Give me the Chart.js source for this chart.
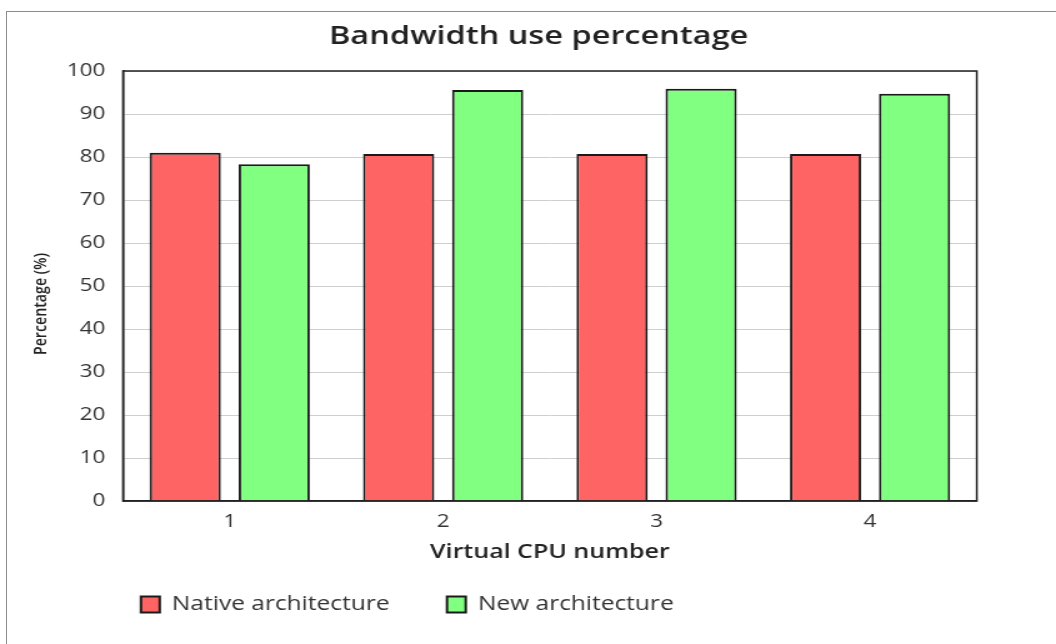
<!DOCTYPE html>
<html>
<head>
<meta charset="utf-8">
<script src="https://cdn.jsdelivr.net/npm/chart.js@4/dist/chart.umd.min.js"></script>
<style>
  html, body { margin: 0; padding: 0; background: #fff; }
  #wrap { position: relative; width: 1056px; height: 644px; overflow: hidden; }
  #frame { position: absolute; left: 6px; top: 11px; width: 1100px; height: 700px;
           border-top: 1px solid #8c8c8c; border-left: 1px solid #8c8c8c; pointer-events: none; }
  #myChart { position: absolute; left: 0; top: 0; }
</style>
</head>
<body>
<div id="wrap">
  <!-- drawn narrow then stretched sideways, like the original picture -->
  <canvas id="myChart" width="845" height="644" style="width:1056px;height:644px"></canvas>
  <div id="frame"></div>
</div>
<script>
// data
const cpus = ['1', '2', '3', '4'];
const nativeArch = [81, 80.7, 80.7, 80.7];
const newArch = [78.3, 95.6, 95.9, 94.7];
const seriesNames = ['Native architecture', 'New architecture'];
const yTicks = [0, 10, 20, 30, 40, 50, 60, 70, 80, 90, 100];
const yTitle = 'Percentage (%)';

const font = 'Open Sans';
const textColor = '#333333';
const legendPad = 46;
const legendSize = 19.6;

// top and right edge of the plot box
const plotFrame = {
  id: 'plotFrame',
  afterDraw(chart) {
    const a = chart.chartArea;
    const ctx = chart.ctx;
    ctx.save();
    ctx.strokeStyle = '#222222';
    ctx.lineWidth = 1.5;
    ctx.strokeRect(a.left, a.top, a.right - a.left, a.bottom - a.top);
    ctx.restore();
  }
};

// y axis title sits a bit below the middle in the original
const yTitlePlace = {
  id: 'yTitlePlace',
  afterDraw(chart) {
    const ctx = chart.ctx;
    ctx.save();
    ctx.translate(33, 304);
    ctx.rotate(-Math.PI / 2);
    ctx.fillStyle = '#222222';
    ctx.font = '600 14.2px "' + font + '"';
    ctx.textAlign = 'center';
    ctx.textBaseline = 'middle';
    ctx.fillText(yTitle, 0, 0);
    ctx.restore();
  }
};

// legend and title are not centred on the canvas in the original
const boxPlace = {
  id: 'boxPlace',
  afterLayout(chart) {
    chart.legend.left = 112.8 - legendPad;
    chart.legend.top = 604.5 - legendSize / 2 - legendPad;
    chart.titleBlock.left = 0;
    chart.titleBlock.right = 862;
  }
};

const myChart = document.getElementById('myChart');

new Chart(myChart, {
  type: 'bar',
  data: {
    labels: cpus,
    datasets: [{
      label: seriesNames[0],
      data: nativeArch,
      backgroundColor: '#ff6464',
      borderColor: '#1a1a1a',
      borderWidth: 2,
      categoryPercentage: 0.834,
      barPercentage: 0.8
    }, {
      label: seriesNames[1],
      data: newArch,
      backgroundColor: '#80ff80',
      borderColor: '#1a1a1a',
      borderWidth: 2,
      categoryPercentage: 0.834,
      barPercentage: 0.8
    }]
  },
  options: {
    responsive: false,
    animation: false,
    devicePixelRatio: 1,
    layout: { padding: { left: 0, right: 63.4, top: 0, bottom: 0 } },
    plugins: {
      title: {
        display: true,
        text: 'Bandwidth use percentage',
        color: '#222222',
        font: { family: font, size: 26, weight: '600' },
        padding: { top: 21.4, bottom: 18.4 }
      },
      legend: {
        position: 'bottom',
        align: 'start',
        labels: {
          color: textColor,
          font: { family: font, size: legendSize },
          boxWidth: 15,
          boxHeight: 16,
          padding: legendPad,
          useBorderRadius: false
        }
      },
      tooltip: { enabled: false }
    },
    scales: {
      x: {
        grid: { display: false, drawTicks: false },
        border: { color: '#222222', width: 1.5 },
        ticks: { color: textColor, font: { family: font, size: 18 }, padding: 10 },
        title: {
          display: true,
          text: 'Virtual CPU number',
          color: '#222222',
          font: { family: font, size: 20, weight: '600' },
          padding: { top: 4, bottom: 4.4 }
        },
        afterFit(scale) { scale.height = 67.4; }
      },
      y: {
        min: 0,
        max: 100,
        grid: { color: '#cfcfcf', lineWidth: 1, drawTicks: false },
        border: { color: '#222222', width: 1.5 },
        afterBuildTicks(scale) { scale.ticks = yTicks.map(v => ({ value: v })); },
        ticks: { color: textColor, font: { family: font, size: 18 }, padding: 14 },
        afterFit(scale) { scale.width = 98.4; }
      }
    }
  },
  plugins: [plotFrame, yTitlePlace, boxPlace]
});
</script>
</body>
</html>
